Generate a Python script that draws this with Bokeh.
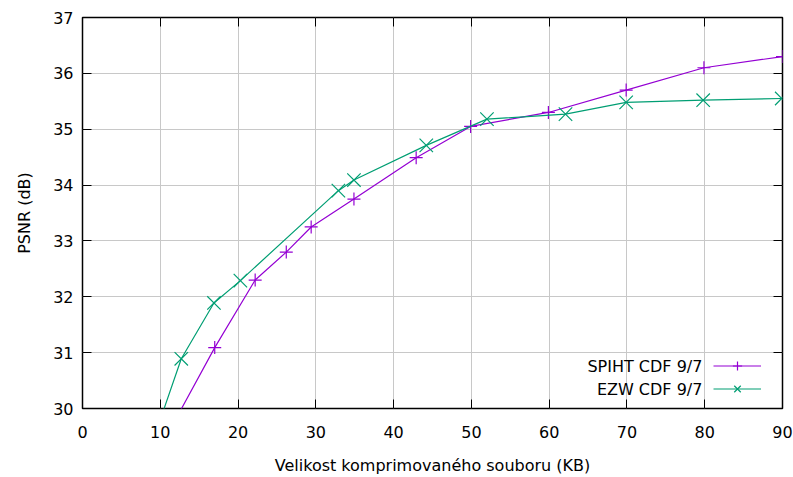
from bokeh.plotting import figure
from bokeh.models import (Range1d, LinearAxis, FixedTicker, Legend, LegendItem, Label,
                          CustomLabelingPolicy)
from bokeh.embed import file_html
from bokeh.resources import INLINE

# Data
spiht_x = [10, 17, 22.2, 26.2, 29.4, 34.9, 42.9, 49.9, 59.9, 69.9, 79.9, 90]
spiht_y = [29.3, 31.09, 32.3, 32.8, 33.25, 33.75, 34.49, 35.05, 35.3, 35.7, 36.1, 36.3]
ezw_x = [10, 12.7, 16.9, 20.3, 32.9, 34.9, 44.2, 52.0, 62.1, 69.9, 79.8, 89.9]
ezw_y = [29.8, 30.89, 31.89, 32.29, 33.9, 34.09, 34.71, 35.18, 35.27, 35.48, 35.52, 35.55]
x_ticks = [0, 10, 20, 30, 40, 50, 60, 70, 80, 90]
y_ticks = [30, 31, 32, 33, 34, 35, 36, 37]
labels = ["SPIHT CDF 9/7", "EZW CDF 9/7"]
x_title = "Velikost komprimovaného souboru (KB)"
y_title = "PSNR (dB)"

FONT = "DejaVu Sans"
FS = "16px"
PURPLE = "#9400d3"
GREEN = "#009e73"

p = figure(width=793, height=477, output_backend="svg", toolbar_location=None,
           x_range=Range1d(0, 90), y_range=Range1d(30, 37),
           min_border_left=82, min_border_right=11, min_border_top=17, min_border_bottom=68,
           x_axis_label=x_title, y_axis_label=y_title)
p.background_fill_color = "white"
p.border_fill_color = "white"
p.outline_line_color = "black"
p.outline_line_width = 1.5

for ax in (p.xaxis[0], p.yaxis[0]):
    ax.major_tick_in = 9
    ax.major_tick_out = 0
    ax.minor_tick_in = 0
    ax.minor_tick_out = 0
    ax.axis_line_color = None
    ax.major_tick_line_color = "black"
    ax.major_tick_line_width = 1
    ax.major_label_text_font = FONT
    ax.major_label_text_font_size = FS
    ax.major_label_text_color = "black"
    ax.axis_label_text_font = FONT
    ax.axis_label_text_font_size = FS
    ax.axis_label_text_font_style = "normal"
    ax.axis_label_text_color = "black"
p.xaxis[0].ticker = FixedTicker(ticks=x_ticks)
p.yaxis[0].ticker = FixedTicker(ticks=y_ticks)
p.xaxis[0].major_label_standoff = 17
p.xaxis[0].axis_label_standoff = 15
p.yaxis[0].major_label_standoff = 9
p.yaxis[0].axis_label_standoff = 16

# mirror ticks (no labels)
top = LinearAxis(ticker=FixedTicker(ticks=x_ticks),
                 major_label_policy=CustomLabelingPolicy(code="return new Set()"),
                 major_label_text_font_size="2px",
                 major_tick_in=9, major_tick_out=0, minor_tick_in=0, minor_tick_out=0,
                 axis_line_color=None, major_label_standoff=0)
right = LinearAxis(ticker=FixedTicker(ticks=y_ticks),
                   major_label_policy=CustomLabelingPolicy(code="return new Set()"),
                   major_label_text_font_size="2px",
                   major_tick_in=9, major_tick_out=0, minor_tick_in=0, minor_tick_out=0,
                   axis_line_color=None, major_label_standoff=0)
p.add_layout(top, "above")
p.add_layout(right, "right")

p.xgrid.ticker = FixedTicker(ticks=x_ticks)
p.ygrid.ticker = FixedTicker(ticks=y_ticks)
for g in (p.xgrid[0], p.ygrid[0]):
    g.grid_line_color = "#c8c8c8"
    g.grid_line_width = 1

l1 = p.line(spiht_x, spiht_y, line_color=PURPLE, line_width=1.2)
m1 = p.scatter(spiht_x, spiht_y, marker="cross", size=13, line_color=PURPLE, line_width=1.2)
l2 = p.line(ezw_x, ezw_y, line_color=GREEN, line_width=1.2)
m2 = p.scatter(ezw_x, ezw_y, marker="x", size=19, line_color=GREEN, line_width=1.2)

legend = Legend(items=[LegendItem(label=" ", renderers=[l1, m1]),
                       LegendItem(label=" ", renderers=[l2, m2])],
                location=(631, 8), orientation="vertical",
                glyph_width=48, glyph_height=23, label_width=0, label_standoff=0,
                label_text_font_size="1px", spacing=0, padding=0, margin=0,
                border_line_color=None, background_fill_alpha=0)
p.add_layout(legend, "center")

for lbl, yy in zip(labels, [30.755, 30.345]):
    p.add_layout(Label(x=79.7, y=yy, text=lbl, text_align="right", text_baseline="middle",
                       text_font=FONT, text_font_size=FS, text_color="black"))

open("out.html", "w").write(file_html(p, INLINE))
